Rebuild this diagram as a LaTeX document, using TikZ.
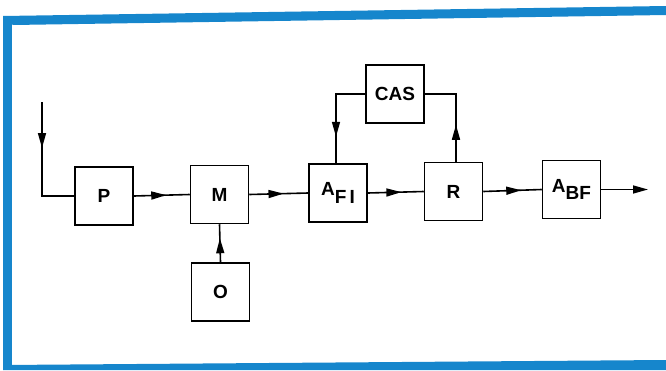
\documentclass[tikz,border=0pt]{standalone}
\usepackage{fontspec}
\setmainfont{Liberation Sans}
\usetikzlibrary{arrows.meta,decorations.markings,calc}
\definecolor{frameblue}{RGB}{22,134,204}
\tikzset{
  blk/.style={draw, line width=1.5pt, minimum width=58pt, minimum height=58pt, inner sep=0pt, font=\fontsize{19}{21}\selectfont\bfseries},
  conn/.style={line width=1.6pt},
  midarrow/.style={postaction={decorate}, decoration={markings, mark=at position #1 with {\arrow{Triangle[length=15pt,width=8pt]}}}},
}
\newcommand{\subtxt}[1]{\raisebox{-0.4em}{#1}}
\begin{document}
\begin{tikzpicture}[x=1pt,y=-1pt]
\useasboundingbox (0,0) rectangle (666,370);
% frame
\fill[frameblue] (3,16) -- (666,6) -- (666,15) -- (13,25) -- cycle;
\fill[frameblue] (3,16) rectangle (12,370);
\fill[frameblue] (3,365) -- (666,360) -- (666,370) -- (3,370) -- cycle;
% blocks
\node[blk] (p) at (104,196) {P};
\node[blk] (m) at (219.5,194.5) {M};
\node[blk] (o) at (220.5,292) {O};
\node[blk] (afi) at (338,193) {A\subtxt{F\,I}};
\node[blk] (cas) at (395,94) {CAS};
\node[blk] (r) at (453.5,191.5) {R};
\node[blk] (abf) at (571.5,189.5) {A\subtxt{BF}};
\coordinate (in) at (42,102);
\coordinate (out) at (648,189.5);
% connectors
\draw[conn, midarrow=46pt] (in) |- (p.west);
\draw[conn, midarrow=0.58] (p.east) -- (m.west);
\draw[conn, midarrow=0.58] (m.east) -- (afi.west);
\draw[conn, midarrow=0.6] (afi.east) -- (r.west);
\draw[conn, midarrow=0.65] (r.east) -- (abf.west);
\draw[conn, -{Triangle[length=15pt,width=8pt]}] (abf.east) -- (out);
\draw[conn, midarrow=24pt] (o.north) -- (m.south);
\draw[conn, midarrow=72pt] (cas.west) -| ($(afi.north)+(-2,0)$);
\draw[conn, midarrow=37pt] ($(r.north)+(2.5,0)$) |- (cas.east);
\end{tikzpicture}
\end{document}
